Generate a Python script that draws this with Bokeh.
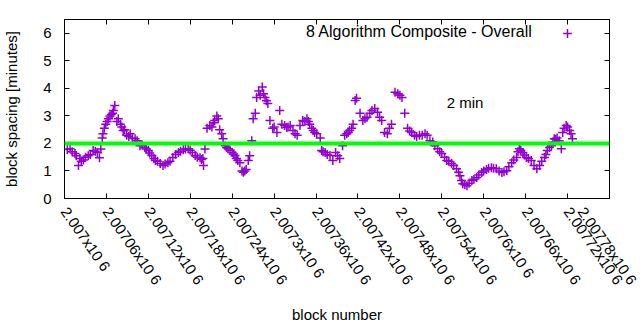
from bokeh.plotting import figure
from bokeh.models import Range1d, FixedTicker, LinearAxis, Span, Label, Legend, LegendItem
from bokeh.embed import file_html
from bokeh.resources import INLINE

# block numbers and block spacing [minutes]
blocks = [
    2007004, 2007008, 2007011, 2007015, 2007017, 2007020, 2007022, 2007024, 2007027, 2007030,
    2007034, 2007037, 2007041, 2007044, 2007047, 2007050, 2007052, 2007054, 2007055, 2007057,
    2007059, 2007061, 2007063, 2007065, 2007067, 2007069, 2007070, 2007072, 2007075, 2007077,
    2007080, 2007082, 2007084, 2007086, 2007089, 2007092, 2007094, 2007097, 2007101, 2007104,
    2007108, 2007111, 2007115, 2007117, 2007120, 2007122, 2007125, 2007128, 2007130, 2007133,
    2007137, 2007141, 2007144, 2007148, 2007151, 2007155, 2007159, 2007163, 2007166, 2007170,
    2007173, 2007177, 2007180, 2007183, 2007187, 2007190, 2007194, 2007196, 2007198, 2007199,
    2007201, 2007204, 2007208, 2007211, 2007213, 2007215, 2007218, 2007220, 2007222, 2007225,
    2007227, 2007230, 2007232, 2007234, 2007237, 2007240, 2007242, 2007244, 2007246, 2007248,
    2007251, 2007254, 2007256, 2007258, 2007260, 2007263, 2007265, 2007268, 2007270, 2007273,
    2007275, 2007278, 2007280, 2007283, 2007285, 2007287, 2007289, 2007291, 2007294, 2007298,
    2007300, 2007304, 2007308, 2007311, 2007315, 2007318, 2007320, 2007323, 2007327, 2007330,
    2007333, 2007337, 2007341, 2007344, 2007347, 2007349, 2007351, 2007354, 2007356, 2007358,
    2007361, 2007366, 2007368, 2007370, 2007373, 2007376, 2007380, 2007384, 2007388, 2007391,
    2007394, 2007398, 2007401, 2007404, 2007406, 2007408, 2007411, 2007413, 2007416, 2007418,
    2007423, 2007427, 2007430, 2007433, 2007437, 2007440, 2007444, 2007448, 2007451, 2007454,
    2007458, 2007462, 2007465, 2007468, 2007473, 2007477, 2007480, 2007483, 2007487, 2007491,
    2007494, 2007497, 2007501, 2007504, 2007508, 2007512, 2007516, 2007519, 2007523, 2007527,
    2007530, 2007534, 2007537, 2007540, 2007544, 2007547, 2007550, 2007554, 2007557, 2007561,
    2007564, 2007566, 2007568, 2007570, 2007573, 2007576, 2007579, 2007583, 2007586, 2007590,
    2007593, 2007597, 2007600, 2007604, 2007607, 2007611, 2007614, 2007618, 2007622, 2007626,
    2007629, 2007633, 2007636, 2007640, 2007643, 2007647, 2007649, 2007651, 2007653, 2007656,
    2007658, 2007661, 2007664, 2007668, 2007672, 2007676, 2007680, 2007683, 2007687, 2007689,
    2007691, 2007694, 2007697, 2007699, 2007701, 2007703, 2007705, 2007708, 2007711, 2007713,
    2007715, 2007718, 2007720, 2007723, 2007725, 2007727,
]
minutes = [
    1.78, 1.81, 1.70, 1.63, 1.55, 1.20, 1.45, 1.35, 1.40, 1.50,
    1.55, 1.60, 1.74, 1.72, 1.67, 1.48, 1.80, 2.20, 2.35, 2.55,
    2.70, 2.80, 2.90, 3.00, 3.05, 3.10, 3.20, 3.38, 2.80, 2.90,
    2.70, 2.60, 2.47, 2.50, 2.30, 2.25, 2.35, 2.20, 2.17, 2.10,
    1.92, 1.95, 1.85, 1.80, 1.74, 1.65, 1.56, 1.45, 1.38, 1.35,
    1.27, 1.20, 1.25, 1.30, 1.35, 1.49, 1.60, 1.67, 1.72, 1.77,
    1.80, 1.81, 1.75, 1.67, 1.56, 1.50, 1.48, 1.42, 1.45, 1.20,
    1.80, 2.55, 2.65, 2.60, 2.75, 2.83, 3.00, 2.90, 2.50, 2.35,
    2.17, 1.92, 1.85, 1.81, 1.75, 1.67, 1.62, 1.56, 1.45, 1.38,
    1.30, 1.00, 0.95, 1.00, 1.05, 1.38, 1.55, 2.10, 2.90, 3.10,
    3.67, 3.90, 3.75, 4.05, 3.80, 3.67, 3.55, 3.45, 2.83, 2.55,
    2.60, 2.40, 3.20, 2.70, 2.65, 2.58, 2.60, 2.65, 2.47, 2.35,
    2.30, 2.65, 2.83, 2.80, 2.90, 2.80, 2.70, 2.55, 2.47, 2.40,
    2.35, 2.20, 1.74, 1.70, 1.67, 1.60, 1.56, 1.38, 1.67, 1.55,
    1.45, 1.92, 2.30, 2.35, 2.40, 2.47, 2.55, 2.70, 3.56, 3.64,
    3.10, 2.83, 2.90, 2.95, 3.10, 3.20, 3.27, 3.13, 2.95, 2.83,
    2.40, 2.35, 2.55, 2.70, 3.86, 3.80, 3.75, 3.67, 3.10, 2.55,
    2.45, 2.40, 2.30, 2.25, 2.30, 2.30, 2.35, 2.30, 2.10, 2.05,
    1.92, 1.81, 1.70, 1.63, 1.50, 1.38, 1.35, 1.27, 1.20, 1.08,
    0.95, 0.83, 0.65, 0.54, 0.50, 0.46, 0.55, 0.65, 0.70, 0.76,
    0.85, 0.94, 1.00, 1.05, 1.10, 1.12, 1.10, 1.08, 1.00, 0.94,
    0.97, 1.01, 1.15, 1.30, 1.40, 1.49, 1.70, 1.81, 1.75, 1.67,
    1.58, 1.49, 1.45, 1.38, 1.20, 1.08, 1.20, 1.35, 1.49, 1.60,
    1.74, 1.85, 1.92, 2.05, 2.17, 2.15, 2.20, 2.10, 1.81, 2.40,
    2.55, 2.65, 2.60, 2.47, 2.35, 2.17,
]

x_ticks = [2007000, 2007060, 2007120, 2007180, 2007240, 2007300, 2007360,
           2007420, 2007480, 2007540, 2007600, 2007660, 2007720, 2007780]
x_tick_labels = ["2.007x10 6", "2.00706x10 6", "2.00712x10 6", "2.00718x10 6",
                 "2.00724x10 6", "2.0073x10 6", "2.00736x10 6", "2.00742x10 6",
                 "2.00748x10 6", "2.00754x10 6", "2.0076x10 6", "2.00766x10 6",
                 "2.00772x10 6", "2.00778x10 6"]
y_ticks = [0, 1, 2, 3, 4, 5, 6]
target_minutes = 2
series_name = "8 Algorithm Composite - Overall"
target_label = "2 min"

FONT = "Liberation Sans"
FS = "15px"
PURPLE = "#9400d3"

p = figure(width=640, height=330, output_backend="svg", toolbar_location=None,
           x_range=Range1d(2007000, 2007780), y_range=Range1d(0, 6.5),
           min_border_left=64, min_border_right=31, min_border_top=19, min_border_bottom=132)
p.grid.visible = False
p.outline_line_color = "black"
p.background_fill_color = "white"
p.border_fill_color = "white"

def style_axis(ax):
    ax.axis_line_color = "black"
    ax.major_tick_line_color = "black"
    ax.major_tick_in = 5
    ax.major_tick_out = 0
    ax.minor_tick_line_color = None
    ax.major_label_text_font = FONT
    ax.major_label_text_font_size = FS
    ax.major_label_text_color = "black"
    ax.axis_label_text_font = FONT
    ax.axis_label_text_font_size = FS
    ax.axis_label_text_font_style = "normal"
    ax.axis_label_text_color = "black"

def hide_labels(ax):
    ax.major_label_text_font_size = "1px"
    ax.major_label_text_alpha = 0
    ax.major_label_standoff = 0

xa = p.xaxis[0]
style_axis(xa)
xa.ticker = FixedTicker(ticks=x_ticks)
xa.major_label_overrides = dict(zip(x_ticks, x_tick_labels))
xa.major_label_orientation = -0.96
xa.major_label_standoff = 10
xa.axis_label = "block number"
xa.axis_label_standoff = 10

ya = p.yaxis[0]
style_axis(ya)
ya.ticker = FixedTicker(ticks=y_ticks)
ya.major_label_standoff = 13
ya.axis_label = "block spacing [minutes]"
ya.axis_label_standoff = 20

ra = LinearAxis(ticker=FixedTicker(ticks=y_ticks))
style_axis(ra)
hide_labels(ra)
p.add_layout(ra, "right")

ta = LinearAxis(ticker=FixedTicker(ticks=x_ticks))
style_axis(ta)
hide_labels(ta)
p.add_layout(ta, "above")

r = p.scatter(blocks, minutes, marker="cross", size=9, line_color=PURPLE, line_width=1.5)

p.add_layout(Span(location=target_minutes, dimension="width", line_color="#00ff00", line_width=4))

p.add_layout(Label(x=2007547, y=3.5, text=target_label, text_font=FONT, text_font_size=FS,
                   text_baseline="middle", text_align="left", text_color="black"))
p.add_layout(Label(x=2007670, y=6.05, text=series_name, text_font=FONT, text_font_size="16px",
                   text_baseline="middle", text_align="right", text_color="black"))

leg = Legend(items=[LegendItem(label=" ", renderers=[r])], location=(492, 154),
             glyph_width=22, glyph_height=22, label_width=0, label_height=22,
             label_standoff=0, padding=0, spacing=0, margin=0,
             border_line_color=None, background_fill_alpha=0,
             label_text_font_size="1px")
p.add_layout(leg)

open("out.html", "w").write(file_html(p, INLINE))
